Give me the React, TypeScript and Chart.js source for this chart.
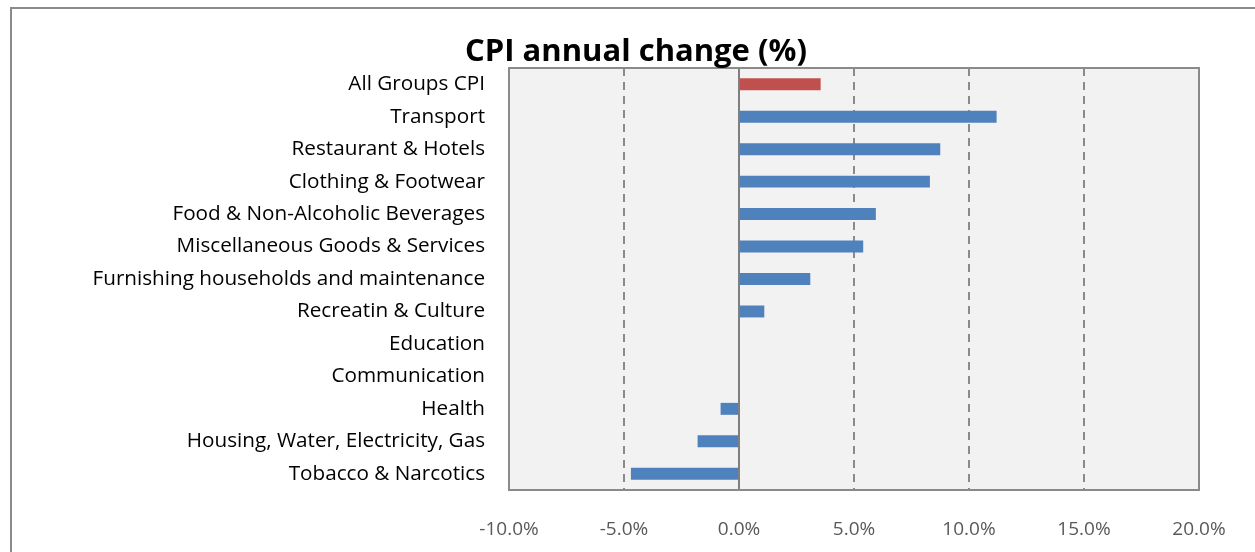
import React, { useEffect, useRef } from "react";
import { Chart, registerables } from "chart.js";

Chart.register(...registerables);

const categories = [
  "All Groups CPI",
  "Transport",
  "Restaurant & Hotels",
  "Clothing & Footwear",
  "Food & Non-Alcoholic Beverages",
  "Miscellaneous Goods & Services",
  "Furnishing households and maintenance",
  "Recreatin & Culture",
  "Education",
  "Communication",
  "Health",
  "Housing, Water, Electricity, Gas",
  "Tobacco & Narcotics",
];

const values = [3.55, 11.2, 8.75, 8.3, 5.95, 5.4, 3.1, 1.1, 0, 0, -0.8, -1.8, -4.7];

const barColors = [
  "#c0504d",
  "#4f81bd",
  "#4f81bd",
  "#4f81bd",
  "#4f81bd",
  "#4f81bd",
  "#4f81bd",
  "#4f81bd",
  "#4f81bd",
  "#4f81bd",
  "#4f81bd",
  "#4f81bd",
  "#4f81bd",
];

const xMin = -10;
const xMax = 20;
const xStep = 5;

const titleText = "CPI annual change (%)";
const FONT = "'Open Sans', Lato, sans-serif";

const decor = {
  id: "decor",
  beforeDraw(chart: any) {
    const { ctx, chartArea: a, width, height } = chart;
    ctx.save();
    ctx.fillStyle = "#ffffff";
    ctx.fillRect(0, 0, width, height);
    ctx.fillStyle = "#f2f2f2";
    ctx.fillRect(a.left, a.top, a.right - a.left, a.bottom - a.top);
    ctx.strokeStyle = "#8a8a8a";
    ctx.lineWidth = 2;
    ctx.beginPath();
    ctx.moveTo(11, height + 5);
    ctx.lineTo(11, 8);
    ctx.lineTo(width + 5, 8);
    ctx.stroke();
    ctx.restore();
  },
  beforeDatasetsDraw(chart: any) {
    const { ctx, chartArea: a } = chart;
    const x0 = chart.scales.x.getPixelForValue(0);
    ctx.save();
    ctx.strokeStyle = "#7f7f7f";
    ctx.lineWidth = 2;
    ctx.beginPath();
    ctx.moveTo(x0, a.top);
    ctx.lineTo(x0, a.bottom);
    ctx.stroke();
    ctx.restore();
  },
  afterDraw(chart: any) {
    const { ctx, chartArea: a } = chart;
    ctx.save();
    ctx.strokeStyle = "#8a8a8a";
    ctx.lineWidth = 2;
    ctx.strokeRect(a.left, a.top, a.right - a.left, a.bottom - a.top);
    ctx.fillStyle = "#000000";
    ctx.font = `bold 31px ${FONT}`;
    ctx.textAlign = "center";
    ctx.textBaseline = "alphabetic";
    ctx.fillText(titleText, 636, 61);
    ctx.restore();
  },
};

export default function App() {
  const ref = useRef<HTMLCanvasElement | null>(null);

  useEffect(() => {
    if (!ref.current) return;
    const chart = new Chart(ref.current, {
      type: "bar",
      data: {
        labels: categories,
        datasets: [
          {
            data: values,
            backgroundColor: barColors,
            borderWidth: 0,
            categoryPercentage: 0.8,
            barPercentage: 0.46,
          },
        ],
      },
      options: {
        indexAxis: "y",
        responsive: false,
        animation: false,
        layout: { padding: { left: 0, right: 56, top: 68, bottom: 0 } },
        plugins: {
          legend: { display: false },
          tooltip: { enabled: false },
          title: { display: false },
        },
        scales: {
          x: {
            min: xMin,
            max: xMax,
            ticks: {
              stepSize: xStep,
              color: "#595959",
              font: { family: FONT, size: 19 },
              padding: 28,
              callback: (v: any) => Number(v).toFixed(1) + "%",
            },
            grid: {
              drawTicks: false,
              color: (c: any) => (c.tick && c.tick.value === 0 ? "rgba(0,0,0,0)" : "#8a8a8a"),
              lineWidth: 2,
            },
            border: { display: false, dash: [8, 6] },
            afterFit: (s: any) => {
              s.height = 62;
            },
          },
          y: {
            ticks: {
              color: "#000000",
              font: { family: FONT, size: 20.7 },
              padding: 24,
            },
            grid: { display: false, drawTicks: false },
            border: { display: false },
            afterFit: (s: any) => {
              s.width = 509;
            },
          },
        },
      },
      plugins: [decor],
    });
    return () => chart.destroy();
  }, []);

  return (
    <div style={{ position: "fixed", left: 0, top: 0, width: 1255, height: 552 }}>
      <canvas ref={ref} width={1255} height={552} style={{ display: "block" }} />
    </div>
  );
}
